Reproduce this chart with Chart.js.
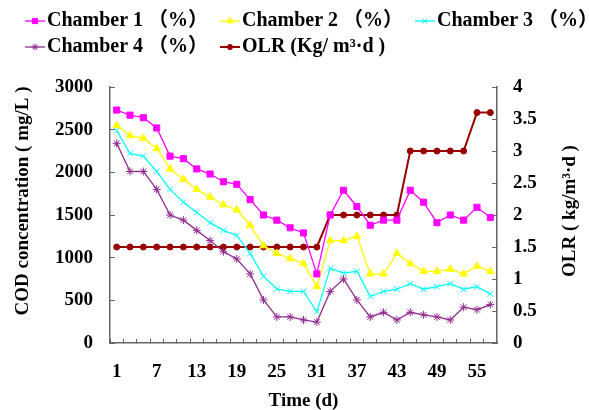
<!DOCTYPE html>
<html>
<head>
<meta charset="utf-8">
<script src="https://cdn.jsdelivr.net/npm/chart.js@4.4.0/dist/chart.umd.min.js"></script>
<style>
  html, body { margin: 0; padding: 0; background: #fff; }
  #wrap { width: 589px; height: 410px; }
</style>
</head>
<body>
<div id="wrap"><canvas id="chart" width="589" height="410"></canvas></div>
<script>
'use strict';

// Sampling days (every second day)
const days = [1, 3, 5, 7, 9, 11, 13, 15, 17, 19, 21, 23, 25, 27, 29,
              31, 33, 35, 37, 39, 41, 43, 45, 47, 49, 51, 53, 55, 57];

// COD concentration, mg/L
const chamber1 = [2730, 2670, 2640, 2520, 2190, 2160, 2040, 1980, 1890, 1860, 1680, 1500, 1440, 1350, 1290,
                  810, 1500, 1790, 1600, 1380, 1440, 1440, 1790, 1650, 1410, 1500, 1440, 1590, 1470];
const chamber2 = [2550, 2430, 2400, 2280, 2040, 1920, 1800, 1710, 1620, 1560, 1380, 1140, 1050, 990, 930,
                  660, 1200, 1200, 1250, 810, 810, 1050, 930, 840, 840, 865, 810, 900, 840];
const chamber3 = [2490, 2220, 2190, 2010, 1800, 1650, 1530, 1410, 1320, 1260, 1050, 780, 635, 605, 605,
                  365, 875, 820, 840, 545, 605, 630, 695, 630, 660, 695, 630, 660, 575];
const chamber4 = [2340, 2010, 2010, 1800, 1500, 1440, 1320, 1200, 1070, 985, 810, 505, 305, 305, 270,
                  245, 605, 750, 505, 305, 360, 270, 360, 330, 305, 270, 420, 390, 450];

// Organic loading rate, kg/m3.d
const olr = [1.5, 1.5, 1.5, 1.5, 1.5, 1.5, 1.5, 1.5, 1.5, 1.5, 1.5, 1.5, 1.5, 1.5, 1.5,
             1.5, 2, 2, 2, 2, 2, 2, 3, 3, 3, 3, 3, 3.6, 3.6];

const seriesLabels = ['Chamber 1 （%）', 'Chamber 2 （%）', 'Chamber 3 （%）',
                      'Chamber 4 （%）', 'OLR (Kg/ m³·d )'];
const leftTitle = 'COD concentration ( mg/L )';
const rightTitle = 'OLR ( kg/m³·d )';
const xTitle = 'Time (d)';

const FONT = '"Liberation Serif", "Times New Roman", "Noto Sans CJK SC", serif';
const AXIS = '#666666';

Chart.defaults.font.family = FONT;
Chart.defaults.font.size = 19;
Chart.defaults.font.weight = 'bold';
Chart.defaults.color = '#000';

function series(label, data, color, style, radius, width, axis) {
    return {
        label: label,
        data: data,
        yAxisID: axis,
        borderColor: color,
        backgroundColor: color,
        pointBackgroundColor: color,
        pointBorderColor: color,
        pointBorderWidth: 1,
        borderWidth: width,
        pointStyle: style,
        pointRadius: radius,
        tension: 0,
        fill: false
    };
}

// Excel style legend: short line with the marker in the middle
const legendPlugin = {
    id: 'lineLegend',
    afterDraw(chart) {
        const ctx = chart.ctx;
        ctx.save();
        ctx.font = 'bold 20px ' + FONT;
        ctx.textBaseline = 'middle';
        ctx.textAlign = 'left';
        chart.data.datasets.forEach((ds, i) => {
            const x = 25 + (i % 3) * 195;
            const y = i < 3 ? 21 : 47;
            ctx.strokeStyle = ds.borderColor;
            ctx.lineWidth = ds.borderWidth;
            ctx.beginPath();
            ctx.moveTo(x, y);
            ctx.lineTo(x + 20, y);
            ctx.stroke();
            ctx.fillStyle = ds.pointBackgroundColor;
            ctx.lineWidth = 1;
            Chart.helpers.drawPoint(ctx, {
                pointStyle: ds.pointStyle,
                radius: ds.pointRadius * 0.85,
                borderWidth: 1,
                rotation: 0
            }, x + 10, y);
            ctx.fillStyle = '#000';
            ctx.fillText(ds.label, x + 22, y);
        });
        ctx.restore();
    }
};

// both vertical titles read bottom to top
const titlePlugin = {
    id: 'sideTitles',
    afterDraw(chart) {
        const ctx = chart.ctx;
        const left = chart.scales.y;
        const right = chart.scales.y1;
        ctx.save();
        ctx.font = 'bold 19px ' + FONT;
        ctx.fillStyle = '#000';
        ctx.textAlign = 'center';
        ctx.textBaseline = 'middle';
        [[left.left + 23, 201, leftTitle], [right.right - 19, 211, rightTitle]].forEach(([x, y, text]) => {
            ctx.save();
            ctx.translate(x, y);
            ctx.rotate(-Math.PI / 2);
            ctx.fillText(text, 0, 0);
            ctx.restore();
        });
        ctx.restore();
    }
};

new Chart(document.getElementById('chart'), {
    type: 'line',
    data: {
        labels: days,
        datasets: [
            series(seriesLabels[0], chamber1, '#FF00FF', 'rect', 4.3, 1.3, 'y'),
            series(seriesLabels[1], chamber2, '#FFFF00', 'triangle', 4.3, 1.3, 'y'),
            series(seriesLabels[2], chamber3, '#00FFFF', 'crossRot', 4, 1.3, 'y'),
            series(seriesLabels[3], chamber4, '#922C90', 'star', 4, 1.3, 'y'),
            series(seriesLabels[4], olr, '#990000', 'circle', 3, 2, 'y1')
        ]
    },
    options: {
        responsive: false,
        animation: false,
        devicePixelRatio: 1,
        layout: { padding: { top: 87, left: 0, right: 0, bottom: 0 } },
        plugins: {
            legend: { display: false },
            tooltip: { enabled: false }
        },
        scales: {
            x: {
                type: 'category',
                offset: true,
                grid: { offset: true, drawOnChartArea: false, tickLength: -4, color: AXIS },
                border: { display: true, color: AXIS, width: 1.5 },
                ticks: {
                    autoSkip: false,
                    maxRotation: 0,
                    padding: 22,
                    callback(value, index) {
                        return index % 3 === 0 ? this.getLabelForValue(value) : '';
                    }
                },
                title: { display: true, text: xTitle, padding: 0, font: { size: 19, lineHeight: 0.9 } },
                afterFit(scale) { scale.height = 67; }
            },
            y: {
                position: 'left',
                min: 0,
                max: 3000,
                ticks: { stepSize: 500, padding: 22, callback: (v) => String(v) },
                grid: { drawOnChartArea: false, tickLength: -5, color: AXIS },
                border: { display: true, color: AXIS, width: 1.5 },
                afterFit(scale) { scale.width = 110; }
            },
            y1: {
                position: 'right',
                min: 0,
                max: 4,
                ticks: { stepSize: 0.5, padding: 21, callback: (v) => String(v) },
                grid: { drawOnChartArea: false, tickLength: -5, color: AXIS },
                border: { display: true, color: AXIS, width: 1.5 },
                afterFit(scale) { scale.width = 92; }
            }
        }
    },
    plugins: [legendPlugin, titlePlugin]
});
</script>
</body>
</html>
